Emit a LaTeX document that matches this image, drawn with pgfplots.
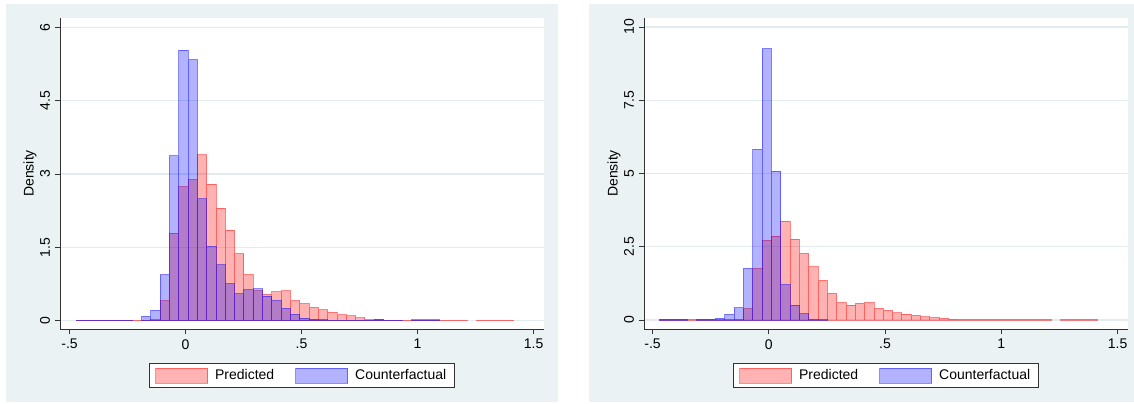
\documentclass[border=0pt]{standalone}
\usepackage{fontspec}
\setmainfont{Liberation Sans}
\usepackage{pgfplots}
\pgfplotsset{compat=1.18}

\definecolor{panelbg}{RGB}{234,242,243}
\definecolor{gridc}{RGB}{226,235,238}
\definecolor{predc}{RGB}{255,0,0}
\definecolor{cfc}{RGB}{0,0,255}

\tikzset{
 predstyle/.style={fill=predc, fill opacity=0.3, draw=predc, draw opacity=0.45, line width=0.7pt},
 cfstyle/.style={fill=cfc, fill opacity=0.3, draw=cfc, draw opacity=0.45, line width=0.7pt},
}

\pgfplotsset{
  statastyle/.style={
    scale only axis, width=363pt, height=233.8pt,
    axis x line*=bottom, axis y line*=left,
    axis line style={black!80, line width=0.6pt},
    axis background/.style={fill=white},
    tick align=outside, major tick length=3.75pt,
    every tick/.style={black!80, line width=0.6pt},
    xtick={-0.5,0,0.5,1,1.5}, xticklabels={-.5,0,.5,1,1.5},
    ymajorgrids, major grid style={gridc, line width=0.9pt},
    yticklabel style={rotate=90, anchor=south},
    /pgf/number format/assume math mode=true,
    ylabel={Density},
    ylabel style={at={(axis description cs:-0.062,0.5)}, anchor=center},
    legend style={at={(axis description cs:0.5,0)}, anchor=north, yshift=-25.3pt,
      draw=black!80, line width=0.6pt, fill=white, legend columns=2,
      /tikz/every odd column/.append style={column sep=3.3pt},
      /tikz/every even column/.append style={column sep=13.7pt},
      inner xsep=4pt, inner ysep=2.5pt, legend cell align=left},
  }
}

\pgfplotstableread{
x y
-0.4701 0.01
-0.4300 0.01
-0.3899 0.01
-0.3498 0.01
-0.3097 0.01
-0.2696 0.01
-0.2295 0.01
-0.1894 0.01
-0.1493 0.02
-0.1092 0.41
-0.0691 1.79
-0.0290 2.74
0.0111 2.89
0.0512 3.39
0.0913 2.79
0.1314 2.30
0.1715 1.85
0.2116 1.37
0.2517 0.94
0.2918 0.61
0.3319 0.54
0.3720 0.59
0.4121 0.61
0.4522 0.41
0.4923 0.35
0.5324 0.27
0.5725 0.22
0.6126 0.17
0.6527 0.12
0.6928 0.10
0.7329 0.06
0.7730 0.02
0.8131 0.02
0.8532 0.01
0.8933 0.01
0.9334 0.01
0.9735 0.01
1.0136 0.01
1.0537 0.01
1.0938 0.01
1.1339 0.01
1.1740 0.01
1.2141 0
}\leftpredA

\pgfplotstableread{
x y
1.2542 0.01
1.2943 0.01
1.3344 0.01
1.3745 0.01
1.4146 0
}\predB

\pgfplotstableread{
x y
-0.4701 0.01
-0.4300 0.01
-0.3899 0.01
-0.3498 0.01
-0.3097 0.01
-0.2696 0.01
-0.2295 0
}\leftcfA

\pgfplotstableread{
x y
-0.1894 0.09
-0.1493 0.21
-0.1092 0.94
-0.0691 3.37
-0.0290 5.53
0.0111 5.34
0.0512 2.49
0.0913 1.52
0.1314 1.14
0.1715 0.76
0.2116 0.55
0.2517 0.63
0.2918 0.65
0.3319 0.50
0.3720 0.41
0.4121 0.25
0.4522 0.13
0.4923 0.05
0.5324 0.03
0.5725 0.02
0.6126 0.01
0.6527 0.01
0.6928 0.01
0.7329 0.01
0.7730 0.01
0.8131 0.02
0.8532 0.01
0.8933 0.01
0.9334 0
}\leftcfB

\pgfplotstableread{
x y
0.9735 0.015
1.0136 0.015
1.0537 0.015
1.0938 0
}\leftcfC

\pgfplotstableread{
x y
-0.4701 0.01
-0.4300 0.01
-0.3899 0.01
-0.3498 0.01
-0.3097 0.01
-0.2696 0.01
-0.2295 0.01
-0.1894 0.01
-0.1493 0.02
-0.1092 0.39
-0.0691 1.76
-0.0290 2.72
0.0111 2.86
0.0512 3.37
0.0913 2.76
0.1314 2.27
0.1715 1.81
0.2116 1.35
0.2517 0.91
0.2918 0.59
0.3319 0.51
0.3720 0.57
0.4121 0.59
0.4522 0.40
0.4923 0.33
0.5324 0.245
0.5725 0.20
0.6126 0.155
0.6527 0.11
0.6928 0.085
0.7329 0.06
0.7730 0.02
0.8131 0.015
0.8532 0.015
0.8933 0.01
0.9334 0.01
0.9735 0.01
1.0136 0.01
1.0537 0.01
1.0938 0.01
1.1339 0.01
1.1740 0.01
1.2141 0
}\rightpredA

\pgfplotstableread{
x y
-0.4701 0.01
-0.4300 0.01
-0.3899 0.01
-0.3498 0
}\rightcfA

\pgfplotstableread{
x y
-0.3097 0.01
-0.2696 0.01
-0.2295 0.06
-0.1894 0.19
-0.1493 0.42
-0.1092 1.76
-0.0691 5.82
-0.0290 9.26
0.0111 5.08
0.0512 1.21
0.0913 0.51
0.1314 0.22
0.1715 0.02
0.2116 0.01
0.2517 0
}\rightcfB

\begin{document}
\fontsize{10.5}{12.6}\selectfont
\begin{tikzpicture}[x=0.75pt,y=0.75pt]
\path (0,0) rectangle (1134,403);
\fill[panelbg] (6,1) rectangle (558,399);
\fill[panelbg] (589,1) rectangle (1134,399);

\begin{axis}[statastyle, at={(45pt,55.275pt)}, anchor=south west,
  xmin=-0.541, xmax=1.545, ymin=-0.176, ymax=6.198,
  ytick={0,1.5,3,4.5,6}, yticklabels={0,1.5,3,4.5,6}]
\addplot[ybar interval, predstyle, forget plot] table {\leftpredA};
\addplot[ybar interval, predstyle, forget plot] table {\predB};
\addplot[ybar interval, cfstyle, forget plot] table {\leftcfA};
\addplot[ybar interval, cfstyle, forget plot] table {\leftcfB};
\addplot[ybar interval, cfstyle, forget plot] table {\leftcfC};
\addlegendimage{legend image code/.code={\draw[predstyle] (0pt,-5.6pt) rectangle (39pt,5.6pt);}}
\addlegendentry{Predicted}
\addlegendimage{legend image code/.code={\draw[cfstyle] (0pt,-5.6pt) rectangle (39pt,5.6pt);}}
\addlegendentry{Counterfactual}
\end{axis}

\begin{axis}[statastyle, at={(483pt,55.275pt)}, anchor=south west,
  xmin=-0.537, xmax=1.545, ymin=-0.317, ymax=10.32,
  ytick={0,2.5,5,7.5,10}, yticklabels={0,2.5,5,7.5,10}]
\addplot[ybar interval, predstyle, forget plot] table {\rightpredA};
\addplot[ybar interval, predstyle, forget plot] table {\predB};
\addplot[ybar interval, cfstyle, forget plot] table {\rightcfA};
\addplot[ybar interval, cfstyle, forget plot] table {\rightcfB};
\addlegendimage{legend image code/.code={\draw[predstyle] (0pt,-5.6pt) rectangle (39pt,5.6pt);}}
\addlegendentry{Predicted}
\addlegendimage{legend image code/.code={\draw[cfstyle] (0pt,-5.6pt) rectangle (39pt,5.6pt);}}
\addlegendentry{Counterfactual}
\end{axis}
\end{tikzpicture}
\end{document}
